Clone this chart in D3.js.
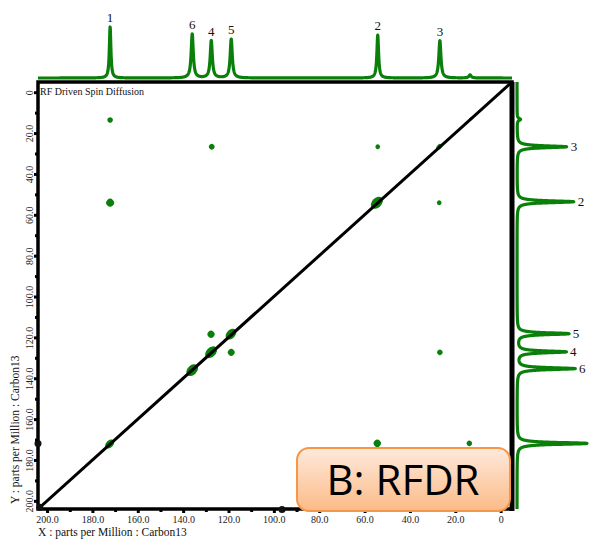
<!DOCTYPE html>
<html>
<head>
<meta charset="utf-8">
<script src="https://cdnjs.cloudflare.com/ajax/libs/d3/7.8.5/d3.min.js"></script>
<style>
body{margin:0;background:#fff}
svg{display:block}
text{font-family:"Liberation Serif","Times New Roman",serif;fill:#111}
</style>
</head>
<body>
<svg></svg>
<script>
//1D projection on top (F2), ppm / relative height / half width (ppm)
var topLabels = ["1","6","4","5","2","3",""]
var topPpm = [172.2,136.0,127.6,118.8,54.2,26.8,13.5]
var topHeight = [1.0,0.86,0.73,0.76,0.84,0.73,0.06]
var topWidth = [0.4,0.55,0.55,0.55,0.45,0.55,0.6]

//1D projection on the right (F1)
var rightLabels = ["","6","4","5","2","3",""]
var rightPpm = [171.9,135.3,127.1,118.2,53.6,26.7,13.3]
var rightHeight = [1.0,0.83,0.70,0.74,0.81,0.71,0.05]
var rightWidth = [0.55,0.55,0.55,0.55,0.55,0.55,0.6]

//2D contour peaks
var crossX = [172.4,136.0,127.7,118.9,54.6,27.1,13.2, 172.2,172.2,127.4,54.2,27.1,127.7,118.8,26.8,54.4,13.8]
var crossY = [172.2,136.0,127.3,118.4,54.1,26.7,13.1, 13.6,54.1,26.7,26.7,54.1,118.5,127.3,127.3,171.9,171.9]
var crossI = [0.5,0.85,0.85,0.7,0.9,0.2,0.08, 0.2,0.42,0.22,0.15,0.15,0.34,0.32,0.2,0.36,0.2]

//folded peaks sitting on the frame
var edgeX = [204,96.4,203.2]
var edgeY = [171.9,204.3,203.2]

var majorTicks = [200,180,160,140,120,100,80,60,40,20,0]
var minorTicks = [190,170,150,130,110,90,70,50,30,10]

var axisDomain = [-5,204]

var lorentz = function(ppm,pos,height,width)
{
    var s = 0
    for (var i=0;i<pos.length;i++)
    {
        var d = (ppm-pos[i])/width[i]
        s += height[i]/(1+d*d)
    }
    return s
}

var tickText = function(d){ return d==0 ? "0" : d3.format(".1f")(d) }

var initGraph = function()
{
    var screen = {width:589,height:539}
    var frame = {left:38,right:512,top:82,bottom:509}

    var svg = d3.select("svg")
        .attr("width",screen.width)
        .attr("height",screen.height)

    var xScale = d3.scaleLinear()
        .domain([axisDomain[1],axisDomain[0]])
        .range([frame.left,frame.right])
    var yScale = d3.scaleLinear()
        .domain(axisDomain)
        .range([frame.top,frame.bottom])

    var topY = d3.scaleLinear().domain([0,1]).range([78,27])
    var rightX = d3.scaleLinear().domain([0,1]).range([517,587])

    var green = "#0a800a"

    //gradient for the label box
    var grad = svg.append("defs").append("linearGradient")
        .attr("id","boxFill")
        .attr("x1",0).attr("x2",0).attr("y1",0).attr("y2",1)
    grad.append("stop").attr("offset","0%").attr("stop-color","#fee9db")
    grad.append("stop").attr("offset","100%").attr("stop-color","#fbbb88")

    //sample points along the ppm axis
    var samples = d3.range(axisDomain[1],axisDomain[0]-0.001,-0.04)

    //top spectrum
    var topLine = d3.line()
        .x(function(p){return xScale(p)})
        .y(function(p){return topY(lorentz(p,topPpm,topHeight,topWidth))})
    svg.append("path")
        .datum(samples)
        .attr("d",topLine)
        .attr("fill","none")
        .attr("stroke",green)
        .attr("stroke-width",3.2)
        .attr("stroke-linejoin","round")

    //right spectrum
    var rightLine = d3.line()
        .x(function(p){return rightX(lorentz(p,rightPpm,rightHeight,rightWidth))})
        .y(function(p){return yScale(p)})
    svg.append("path")
        .datum(samples)
        .attr("d",rightLine)
        .attr("fill","none")
        .attr("stroke",green)
        .attr("stroke-width",3.2)
        .attr("stroke-linejoin","round")

    //peak numbers
    svg.append("g").selectAll("text")
        .data(topPpm.map(function(p,i){return {ppm:p,h:topHeight[i],name:topLabels[i]}}))
        .enter()
        .append("text")
        .text(function(d){return d.name})
        .attr("text-anchor","middle")
        .attr("font-size",13)
        .attr("x",function(d){return xScale(d.ppm)})
        .attr("y",function(d){return topY(d.h)-5})

    svg.append("g").selectAll("text")
        .data(rightPpm.map(function(p,i){return {ppm:p,h:rightHeight[i],name:rightLabels[i]}}))
        .enter()
        .append("text")
        .text(function(d){return d.name})
        .attr("font-size",13)
        .attr("x",function(d){return rightX(d.h)+4})
        .attr("y",function(d){return yScale(d.ppm)+4.5})

    //2D peaks
    var rScale = d3.scaleSqrt().domain([0,1]).range([0,6])
    var peaks = crossX.map(function(x,i){return {x:x,y:crossY[i],v:crossI[i]}})
    svg.append("g").selectAll("ellipse")
        .data(peaks)
        .enter()
        .append("ellipse")
        .attr("transform",function(d){
            return "translate("+xScale(d.x)+","+yScale(d.y)+") rotate(-45)"})
        .attr("rx",function(d){
            var r = rScale(d.v)
            return Math.abs(d.x-d.y)<1.5 ? r*1.25 : r})
        .attr("ry",function(d){
            var r = rScale(d.v)
            return Math.abs(d.x-d.y)<1.5 ? r*0.85 : r})
        .attr("fill",green)

    //frame
    svg.append("rect")
        .attr("x",frame.left)
        .attr("y",frame.top)
        .attr("width",frame.right-frame.left)
        .attr("height",frame.bottom-frame.top)
        .attr("fill","none")
        .attr("stroke","#000")
        .attr("stroke-width",3.5)
    svg.append("line")
        .attr("x1",frame.right).attr("x2",frame.right)
        .attr("y1",frame.top).attr("y2",frame.bottom+2)
        .attr("stroke","#000")
        .attr("stroke-width",5)

    //diagonal
    svg.append("line")
        .attr("x1",xScale(axisDomain[1])).attr("y1",yScale(axisDomain[1]))
        .attr("x2",xScale(axisDomain[0])).attr("y2",yScale(axisDomain[0]))
        .attr("stroke","#000")
        .attr("stroke-width",3)

    svg.append("g").selectAll("ellipse")
        .data(edgeX.map(function(x,i){return {x:x,y:edgeY[i]}}))
        .enter()
        .append("ellipse")
        .attr("cx",function(d){return xScale(d.x)})
        .attr("cy",function(d){return yScale(d.y)})
        .attr("rx",3.5).attr("ry",3.5)
        .attr("fill","#111")

    //axes
    var xAxis = svg.append("g")
        .attr("transform","translate(0,"+frame.bottom+")")
        .call(d3.axisBottom(xScale).tickValues(majorTicks).tickSize(4).tickPadding(3).tickFormat(tickText))
    svg.append("g")
        .attr("transform","translate(0,"+frame.bottom+")")
        .call(d3.axisBottom(xScale).tickValues(minorTicks).tickSize(3).tickFormat(""))

    var yAxis = svg.append("g")
        .attr("transform","translate("+frame.left+",0)")
        .call(d3.axisLeft(yScale).tickValues(majorTicks).tickSize(4).tickFormat(tickText))
    svg.append("g")
        .attr("transform","translate("+frame.left+",0)")
        .call(d3.axisLeft(yScale).tickValues(minorTicks).tickSize(3).tickFormat(""))

    svg.selectAll(".domain").remove()
    svg.selectAll(".tick line").attr("stroke","#000").attr("stroke-width",3)
    svg.selectAll(".tick text")
        .style("font-family","'Liberation Serif', serif")
        .style("font-size","10px")
        .style("fill","#222")
    yAxis.selectAll(".tick text")
        .attr("x",0)
        .attr("y",-5)
        .attr("dy",0)
        .attr("text-anchor","middle")
        .attr("transform","rotate(-90)")

    //labels
    svg.append("text")
        .text("RF Driven Spin Diffusion")
        .attr("font-size",10)
        .attr("x",40)
        .attr("y",95)

    svg.append("text")
        .text("X : parts per Million : Carbon13")
        .attr("font-size",11.5)
        .attr("x",38)
        .attr("y",536)

    svg.append("g")
        .attr("transform","translate(19,504)")
        .append("text")
        .text("Y : parts per Million : Carbon13")
        .attr("font-size",11.5)
        .attr("transform","rotate(-90)")

    //box
    svg.append("rect")
        .attr("x",297).attr("y",448)
        .attr("width",213).attr("height",63)
        .attr("rx",12).attr("ry",12)
        .attr("fill","url(#boxFill)")
        .attr("stroke","#f79646")
        .attr("stroke-width",2)
    svg.append("text")
        .text("B: RFDR")
        .attr("x",403).attr("y",495)
        .attr("text-anchor","middle")
        .style("font-size","42px")
        .style("font-family","'Open Sans', 'Liberation Sans', sans-serif")
        .style("fill","#000")
}

initGraph()
</script>
</body>
</html>
